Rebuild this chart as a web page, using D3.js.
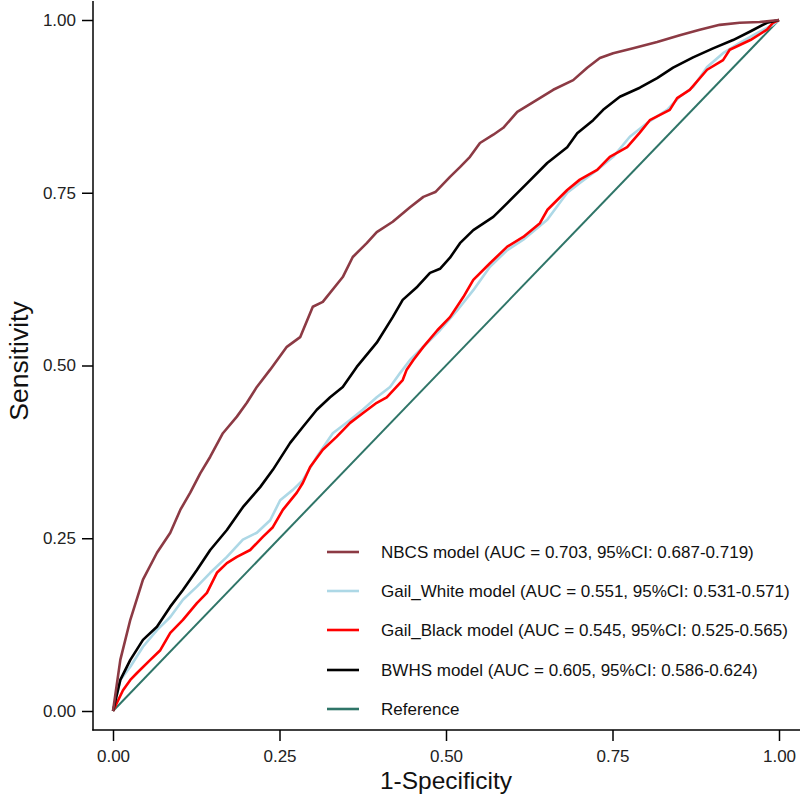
<!DOCTYPE html>
<html><head><meta charset="utf-8">
<script src="https://cdn.jsdelivr.net/npm/d3@7"></script>
<style>body{margin:0;background:#fff}svg{font-family:"Liberation Sans",Arial,sans-serif}</style>
</head><body><svg id="c" width="800" height="804"></svg>
<script>
const xTicks = [0, 0.25, 0.5, 0.75, 1];
const yTicks = [0, 0.25, 0.5, 0.75, 1];
const tickLabels = ["0.00", "0.25", "0.50", "0.75", "1.00"];

const nbcs = [[0,0],[0.011,0.074],[0.026,0.132],[0.045,0.19],[0.066,0.229],[0.086,0.258],[0.101,0.291],[0.116,0.316],[0.131,0.344],[0.146,0.368],[0.165,0.402],[0.186,0.426],[0.201,0.446],[0.216,0.469],[0.236,0.494],[0.261,0.527],[0.281,0.541],[0.3,0.585],[0.315,0.592],[0.345,0.628],[0.36,0.657],[0.381,0.677],[0.396,0.693],[0.42,0.708],[0.446,0.729],[0.466,0.744],[0.484,0.751],[0.506,0.773],[0.521,0.787],[0.536,0.802],[0.551,0.822],[0.571,0.834],[0.586,0.844],[0.607,0.867],[0.631,0.881],[0.661,0.899],[0.691,0.913],[0.712,0.931],[0.731,0.945],[0.751,0.952],[0.781,0.959],[0.817,0.968],[0.851,0.978],[0.881,0.986],[0.911,0.993],[0.941,0.996],[0.971,0.997],[1,1]];
const gailWhite = [[0,0],[0.011,0.045],[0.026,0.064],[0.045,0.093],[0.066,0.117],[0.086,0.136],[0.105,0.161],[0.126,0.18],[0.146,0.2],[0.171,0.223],[0.195,0.248],[0.216,0.258],[0.236,0.276],[0.251,0.305],[0.27,0.32],[0.285,0.334],[0.306,0.368],[0.33,0.402],[0.356,0.421],[0.375,0.436],[0.396,0.454],[0.416,0.469],[0.431,0.489],[0.446,0.508],[0.469,0.53],[0.491,0.551],[0.517,0.58],[0.541,0.609],[0.566,0.643],[0.592,0.667],[0.616,0.682],[0.652,0.711],[0.682,0.75],[0.701,0.764],[0.727,0.783],[0.751,0.802],[0.776,0.831],[0.802,0.851],[0.832,0.87],[0.851,0.889],[0.871,0.903],[0.892,0.932],[0.916,0.952],[0.941,0.967],[0.967,0.981],[0.991,0.993],[1,1]];
const gailBlack = [[0,0],[0.015,0.03],[0.026,0.045],[0.036,0.055],[0.056,0.074],[0.071,0.088],[0.086,0.113],[0.105,0.132],[0.126,0.156],[0.141,0.171],[0.156,0.2],[0.171,0.214],[0.186,0.223],[0.206,0.233],[0.225,0.252],[0.24,0.266],[0.255,0.291],[0.276,0.316],[0.285,0.33],[0.296,0.353],[0.315,0.378],[0.336,0.397],[0.356,0.417],[0.375,0.431],[0.396,0.446],[0.411,0.454],[0.435,0.479],[0.441,0.494],[0.451,0.508],[0.466,0.527],[0.487,0.551],[0.506,0.57],[0.526,0.599],[0.541,0.624],[0.566,0.648],[0.592,0.672],[0.616,0.686],[0.641,0.706],[0.652,0.725],[0.682,0.754],[0.701,0.769],[0.727,0.783],[0.746,0.802],[0.772,0.816],[0.791,0.837],[0.806,0.855],[0.836,0.87],[0.847,0.887],[0.866,0.899],[0.892,0.928],[0.916,0.942],[0.926,0.957],[0.957,0.971],[0.982,0.986],[0.991,0.996],[1,1]];
const bwhs = [[0,0],[0.011,0.045],[0.026,0.074],[0.045,0.103],[0.066,0.122],[0.086,0.151],[0.105,0.175],[0.126,0.204],[0.146,0.233],[0.171,0.262],[0.195,0.295],[0.221,0.324],[0.24,0.349],[0.266,0.388],[0.285,0.411],[0.306,0.436],[0.326,0.454],[0.345,0.469],[0.366,0.498],[0.396,0.533],[0.42,0.57],[0.435,0.595],[0.457,0.614],[0.476,0.634],[0.491,0.64],[0.506,0.656],[0.521,0.677],[0.541,0.696],[0.571,0.715],[0.592,0.735],[0.622,0.764],[0.652,0.793],[0.682,0.816],[0.697,0.836],[0.721,0.855],[0.736,0.87],[0.761,0.889],[0.791,0.902],[0.817,0.916],[0.841,0.931],[0.871,0.946],[0.901,0.959],[0.931,0.971],[0.956,0.983],[0.982,0.996],[1,1]];
const reference = [[0,0],[1,1]];

const seriesNames = ["NBCS model (AUC = 0.703, 95%CI: 0.687-0.719)","Gail_White model (AUC = 0.551, 95%CI: 0.531-0.571)","Gail_Black model (AUC = 0.545, 95%CI: 0.525-0.565)","BWHS model (AUC = 0.605, 95%CI: 0.586-0.624)","Reference"];
const seriesColors = ["#8c3a44","#add8e6","#ff0000","#000000","#2f7568"];
const seriesData = [nbcs, gailWhite, gailBlack, bwhs, reference];

const svg = d3.select("#c");
const x = d3.scaleLinear().domain([0,1]).range([113,779]);
const y = d3.scaleLinear().domain([0,1]).range([711,20]);

svg.append("line").attr("x1",93).attr("x2",93).attr("y1",1).attr("y2",730.5).attr("stroke","#000").attr("stroke-width",1.5);
svg.append("line").attr("x1",92.25).attr("x2",800).attr("y1",730).attr("y2",730).attr("stroke","#000").attr("stroke-width",1.5);

const fmt = (d,i)=>tickLabels[i];
const yAxis = svg.append("g").attr("transform","translate(93,0)")
  .call(d3.axisLeft(y).tickValues(yTicks).tickFormat(fmt).tickSize(11).tickPadding(6));
const xAxis = svg.append("g").attr("transform","translate(0,730)")
  .call(d3.axisBottom(x).tickValues(xTicks).tickFormat(fmt).tickSize(11).tickPadding(9));
[yAxis,xAxis].forEach(g=>{
  g.select(".domain").remove();
  g.selectAll(".tick line").attr("stroke","#000").attr("stroke-width",1.5);
  g.selectAll(".tick text").attr("font-size",17).attr("fill","#222").attr("font-family","Liberation Sans, Arial, sans-serif");
});

svg.append("text").attr("x",446).attr("y",789).attr("text-anchor","middle").attr("font-size",24.5).attr("fill","#111").text("1-Specificity");
svg.append("text").attr("transform","translate(28,361) rotate(-90)").attr("text-anchor","middle").attr("font-size",26.5).attr("fill","#111").text("Sensitivity");

const line = d3.line().x(d=>x(d[0])).y(d=>y(d[1]));
const order = [4,1,2,3,0];
order.forEach(i=>{
  svg.append("path").datum(seriesData[i]).attr("d",line).attr("fill","none")
    .attr("stroke",seriesColors[i]).attr("stroke-width",i===4?2:2.6).attr("stroke-linejoin","round");
});

const legY = [552,591,630,670,709];
seriesNames.forEach((n,i)=>{
  svg.append("line").attr("x1",327).attr("x2",359).attr("y1",legY[i]).attr("y2",legY[i]).attr("stroke",seriesColors[i]).attr("stroke-width",2.6);
  svg.append("text").attr("x",381).attr("y",legY[i]).attr("dy","0.35em").attr("font-size",17).attr("fill","#111").text(n);
});
</script></body></html>
